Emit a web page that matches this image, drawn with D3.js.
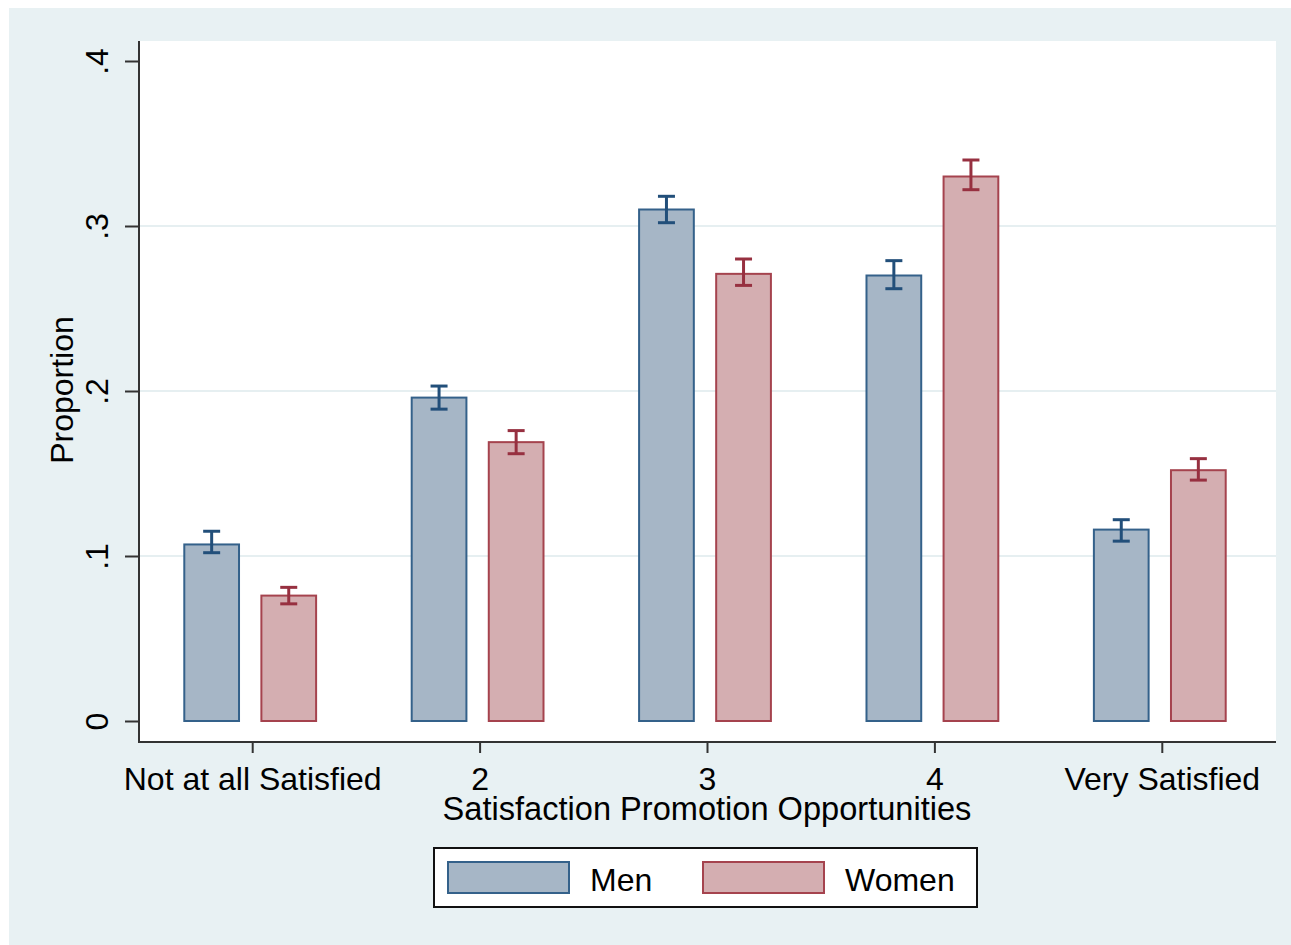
<!DOCTYPE html>
<html>
<head>
<meta charset="utf-8">
<script src="https://cdn.jsdelivr.net/npm/d3@7"></script>
<style>
  body { margin: 0; background: #fff; }
  text { font-family: "Liberation Sans", Arial, sans-serif; fill: #000; }
</style>
</head>
<body>
<script>
// categories and series
var categories = ["Not at all Satisfied", "2", "3", "4", "Very Satisfied"];
var groups = ["Men", "Women"];
var menMean  = [0.107, 0.196, 0.310, 0.270, 0.116];
var menLo    = [0.102, 0.189, 0.302, 0.262, 0.109];
var menHi    = [0.115, 0.203, 0.318, 0.279, 0.122];
var womenMean = [0.076, 0.169, 0.271, 0.330, 0.152];
var womenLo   = [0.071, 0.162, 0.264, 0.322, 0.146];
var womenHi   = [0.081, 0.176, 0.280, 0.340, 0.159];
var yTicks = [0, 0.1, 0.2, 0.3, 0.4];
var yTickLabels = ["0", ".1", ".2", ".3", ".4"];

var W = 1291, H = 945;
// plot region edges (don't call it "top", that's window.top)
var pLeft = 139, pRight = 1276, pTop = 41, pBottom = 742;

var fills   = { Men: "#a6b6c6", Women: "#d4aeb1" };
var strokes = { Men: "#34618a", Women: "#a5434e" };
var errCol  = { Men: "#224f7a", Women: "#973040" };

var svg = d3.select("body").append("svg")
  .attr("width", W).attr("height", H);

// outer background + plot region
svg.append("rect").attr("x", 9).attr("y", 8)
  .attr("width", W - 9).attr("height", H - 8).attr("fill", "#e8f1f3");
svg.append("rect").attr("x", pLeft).attr("y", pTop)
  .attr("width", pRight - pLeft).attr("height", pBottom - pTop).attr("fill", "#fff");

var y = d3.scaleLinear().domain([0, 0.4]).range([721, 61]);
var x0 = d3.scaleBand().domain(categories).range([pLeft, pRight]);
// bars sit a touch left of the tick in the original
var x1 = d3.scaleBand().domain(groups).range([-2.5, x0.bandwidth() - 2.5])
  .paddingInner(0.29).paddingOuter(0.62);

// grid
svg.append("g").selectAll("line")
  .data([0.1, 0.2, 0.3])
  .enter().append("line")
  .attr("x1", pLeft).attr("x2", pRight)
  .attr("y1", function(d) { return y(d); })
  .attr("y2", function(d) { return y(d); })
  .attr("stroke", "#e6eff1").attr("stroke-width", 2);

// build rows
var rows = [];
categories.forEach(function(c, i) {
  rows.push({ cat: c, g: "Men", v: menMean[i], lo: menLo[i], hi: menHi[i] });
  rows.push({ cat: c, g: "Women", v: womenMean[i], lo: womenLo[i], hi: womenHi[i] });
});

function cx(d) { return x0(d.cat) + x1(d.g) + x1.bandwidth() / 2; }

svg.append("g").selectAll("rect")
  .data(rows)
  .enter().append("rect")
  .attr("x", function(d) { return x0(d.cat) + x1(d.g); })
  .attr("width", x1.bandwidth())
  .attr("y", function(d) { return y(d.v); })
  .attr("height", function(d) { return y(0) - y(d.v); })
  .attr("fill", function(d) { return fills[d.g]; })
  .attr("stroke", function(d) { return strokes[d.g]; })
  .attr("stroke-width", 2);

// error bars
var capW = 17;
var eb = svg.append("g").selectAll("g")
  .data(rows)
  .enter().append("g")
  .attr("stroke", function(d) { return errCol[d.g]; })
  .attr("stroke-width", 3);
eb.append("line")
  .attr("x1", cx).attr("x2", cx)
  .attr("y1", function(d) { return y(d.lo); })
  .attr("y2", function(d) { return y(d.hi); });
["lo", "hi"].forEach(function(k) {
  eb.append("line")
    .attr("x1", function(d) { return cx(d) - capW / 2; })
    .attr("x2", function(d) { return cx(d) + capW / 2; })
    .attr("y1", function(d) { return y(d[k]); })
    .attr("y2", function(d) { return y(d[k]); });
});

// y axis
var yAxis = d3.axisLeft(y).tickValues(yTicks)
  .tickFormat(function(d, i) { return yTickLabels[i]; })
  .tickSize(14).tickPadding(0);
var gy = svg.append("g").attr("transform", "translate(" + pLeft + ",0)").call(yAxis);
gy.select(".domain").remove();
gy.selectAll(".tick line").attr("stroke", "#333").attr("stroke-width", 2);
gy.selectAll(".tick text")
  .attr("x", 0).attr("dy", 0)
  .attr("transform", "translate(-31,0) rotate(-90)")
  .attr("text-anchor", "middle")
  .style("font-size", "32px")
  .style("font-family", "Liberation Sans, Arial, sans-serif")
  .attr("fill", "#000");
svg.append("line").attr("x1", pLeft).attr("x2", pLeft)
  .attr("y1", pTop).attr("y2", pBottom + 1)
  .attr("stroke", "#333").attr("stroke-width", 2);

// x axis
var xAxis = d3.axisBottom(x0).tickSize(11).tickPadding(0);
var gx = svg.append("g").attr("transform", "translate(0," + pBottom + ")").call(xAxis);
gx.select(".domain").remove();
gx.selectAll(".tick line").attr("stroke", "#333").attr("stroke-width", 2);
gx.selectAll(".tick text")
  .attr("y", 48).attr("dy", 0)
  .style("font-size", "32px")
  .style("font-family", "Liberation Sans, Arial, sans-serif")
  .attr("fill", "#000");
svg.append("line").attr("x1", pLeft - 1).attr("x2", pRight)
  .attr("y1", pBottom).attr("y2", pBottom)
  .attr("stroke", "#333").attr("stroke-width", 2);

// axis titles
svg.append("text")
  .attr("x", 707).attr("y", 820)
  .attr("text-anchor", "middle")
  .style("font-size", "32.6px")
  .text("Satisfaction Promotion Opportunities");
svg.append("text")
  .attr("transform", "translate(73,390) rotate(-90)")
  .attr("text-anchor", "middle")
  .style("font-size", "32px")
  .text("Proportion");

// legend
var lg = svg.append("g");
lg.append("rect").attr("x", 434).attr("y", 848)
  .attr("width", 543).attr("height", 59)
  .attr("fill", "#fff").attr("stroke", "#111").attr("stroke-width", 2);
var legendX = { Men: 448, Women: 703 };
groups.forEach(function(g) {
  lg.append("rect").attr("x", legendX[g]).attr("y", 862)
    .attr("width", 121).attr("height", 31)
    .attr("fill", fills[g]).attr("stroke", strokes[g]).attr("stroke-width", 2);
  lg.append("text").attr("x", legendX[g] + 142).attr("y", 891)
    .style("font-size", "32px").text(g);
});
</script>
</body>
</html>
